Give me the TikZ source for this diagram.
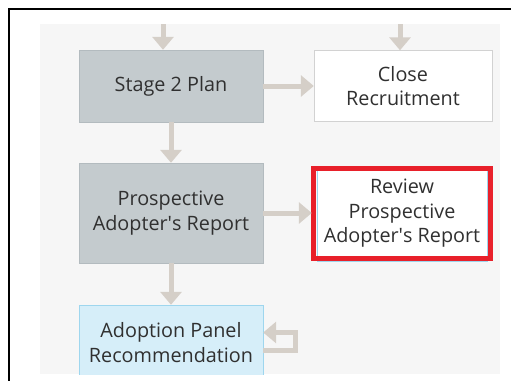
\documentclass[tikz,border=0pt]{standalone}
\usepackage{fontspec}
\setmainfont{Open Sans}
\usetikzlibrary{arrows.meta}

\definecolor{panelbg}{HTML}{F6F6F6}
\definecolor{donefill}{HTML}{C4CBCE}
\definecolor{donedraw}{HTML}{B3BBBF}
\definecolor{opendraw}{HTML}{D2D2D2}
\definecolor{activefill}{HTML}{D6EEF9}
\definecolor{activedraw}{HTML}{9ED6EE}
\definecolor{flowline}{HTML}{D5CFC8}
\definecolor{hilite}{HTML}{E8202A}
\definecolor{labeltext}{HTML}{303030}

\begin{document}
\begin{tikzpicture}[x=1pt, y=-1pt,
      every node/.style={align=center, text=labeltext, inner sep=0pt,
        font=\fontsize{19.8}{24.5}\selectfont},
      done/.style={draw=donedraw, fill=donefill, minimum width=184pt},
      open/.style={draw=opendraw, fill=white, minimum width=178pt},
      active/.style={draw=activedraw, fill=activefill, minimum width=184pt},
      flow/.style={draw=flowline, line width=5pt,
        -{Triangle[width=21pt, length=13pt]}},
      redframe/.style={draw=hilite, line width=5pt}
    ]
      \useasboundingbox (0,0) rectangle (511,380);
      % frame and panel
      \draw[line width=2pt] (9,381) -- (9,9) -- (512,9);
      \fill[panelbg] (40,24) rectangle (500,374);

      \node[done, minimum height=72pt] (plan) at (171,86) {Stage 2 Plan};
      \node[open, minimum height=71pt] (close) at (403,86) {Close\\Recruitment};
      \node[done, minimum height=100pt] (report) at (171,213)
        {Prospective\\Adopter\textquotesingle s Report};
      \node[draw=activedraw, fill=white, minimum width=170pt, minimum height=95pt]
        (review) at (402,213.5) {Review\\Prospective\\Adopter\textquotesingle s Report};
      \draw[redframe] ([shift={(-3pt,-3pt)}]review.north west)
        rectangle ([shift={(3pt,3pt)}]review.south east);
      \begin{scope}
        \clip (40,24) rectangle (500,374);
        \node[active, minimum height=75pt] (panel) at (171,342.5)
          {Adoption Panel\\Recommendation};
      \end{scope}

      % incoming from above
      \coordinate (inplan) at (163,24);
      \coordinate (inclose) at (400,24);
      \draw[flow] (inplan) -- (inplan |- plan.north);
      \draw[flow] (inclose) -- (inclose |- close.north);

      \draw[flow] (plan.east) -- (plan.east -| close.west);
      \draw[flow] (plan.south) -- (report.north);
      \draw[flow, shorten >=5pt] (report.east) -- (report.east -| review.west);
      \draw[flow] (report.south) -- (panel.north);
      % loop back
      \draw[flow] ([yshift=-8pt]panel.east) -- ++(32.5,0) |- ([yshift=10pt]panel.east);
    \end{tikzpicture}
\end{document}
